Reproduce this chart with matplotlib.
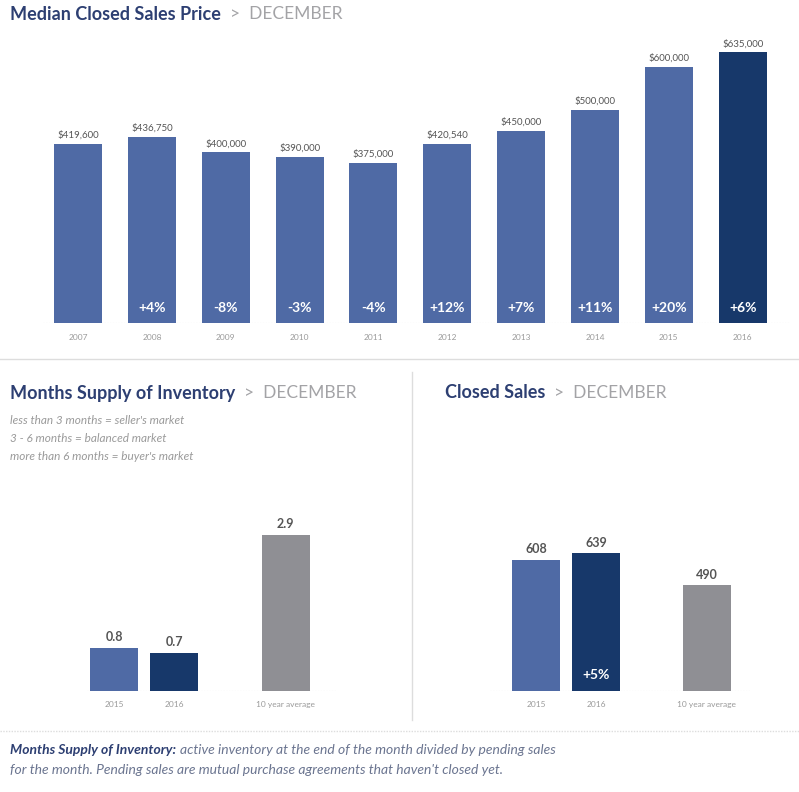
import numpy as np
import matplotlib
matplotlib.use('Agg')
import matplotlib.pyplot as plt

# data
years = ['2007', '2008', '2009', '2010', '2011', '2012', '2013', '2014', '2015', '2016']
prices = [419600, 436750, 400000, 390000, 375000, 420540, 450000, 500000, 600000, 635000]
price_labels = ['$419,600', '$436,750', '$400,000', '$390,000', '$375,000',
                '$420,540', '$450,000', '$500,000', '$600,000', '$635,000']
price_change = ['', '+4%', '-8%', '-3%', '-4%', '+12%', '+7%', '+11%', '+20%', '+6%']

bottom_cats = ['2015', '2016', '10 year average']
supply = [0.8, 0.7, 2.9]
supply_labels = ['0.8', '0.7', '2.9']
closed = [608, 639, 490]
closed_labels = ['608', '639', '490']
closed_change = ['', '+5%', '']

market_notes = ["less than 3 months = seller's market",
                "3 - 6 months = balanced market",
                "more than 6 months = buyer's market"]

# colours
mid_blue = '#4f6aa5'
navy = '#17386a'
grey_bar = '#8f8f94'
title_col = '#2d3f72'
grey_txt = '#a3a3a6'
val_col = '#555555'

plt.rcParams['font.family'] = ['Lato', 'DejaVu Sans']

W, H = 799, 792
fig = plt.figure(figsize=(W / 100, H / 100), dpi=100)
fig.patch.set_facecolor('white')


def px_axes(x0, y0, x1, y1):
    # axes from pixel box (top-left origin)
    return fig.add_axes([x0 / W, 1 - y1 / H, (x1 - x0) / W, (y1 - y0) / H])


def title(x, y, main):
    t = fig.text(x / W, 1 - y / H, main, fontsize=13, fontweight='bold',
                 color=title_col, va='center', ha='left')
    bb = t.get_window_extent(fig.canvas.get_renderer())
    fig.text((bb.x1 + 9) / W, 1 - y / H, '>  DECEMBER', fontsize=12.5,
             color=grey_txt, va='center', ha='left')


def clean(ax):
    for s in ax.spines.values():
        s.set_visible(False)
    ax.set_yticks([])
    ax.tick_params(axis='x', length=0)
    ax.axhline(0, color='#cfcfcf', lw=0.8, ls=(0, (1, 1.5)), zorder=0)


# ---- top chart: median closed sales price
ax1 = px_axes(43, 33, 790, 323)
x = np.arange(len(years))
cols = [mid_blue] * (len(years) - 1) + [navy]
ax1.bar(x, prices, width=0.65, color=cols, zorder=2)
ax1.set_xlim(-0.475, 9.64)
ax1.set_ylim(0, 600000 * 290 / 256)
clean(ax1)
ax1.set_xticks(x)
ax1.set_xticklabels(years, fontsize=6, color='#9a9a9a')
ax1.tick_params(axis='x', pad=8)
for i in range(len(years)):
    ax1.text(x[i], prices[i] + 9000, price_labels[i], ha='center', va='bottom',
             fontsize=7, color=val_col)
    if price_change[i]:
        ax1.text(x[i], 35000, price_change[i], ha='center', va='center',
                 fontsize=10, fontweight='bold', color='white')

title(10, 14, 'Median Closed Sales Price')

# separators
fig.add_artist(plt.Line2D([0, 1], [1 - 359 / H, 1 - 359 / H], color='#dddddd', lw=1))
fig.add_artist(plt.Line2D([412 / W, 412 / W], [1 - 372 / H, 1 - 720 / H], color='#dddddd', lw=1))
fig.add_artist(plt.Line2D([0, 1], [1 - 731 / H, 1 - 731 / H], color='#dddddd', lw=1,
                          ls=(0, (1, 1))))

# ---- bottom left: months supply of inventory
pos = [0, 1, 2.85]
bcols = [mid_blue, navy, grey_bar]
ax2 = px_axes(87, 500, 337, 691)
ax2.bar(pos, supply, width=0.8, color=bcols, zorder=2)
ax2.set_xlim(-0.45, 3.7)
ax2.set_ylim(0, 2.9 * 191 / 156)
clean(ax2)
ax2.set_xticks(pos)
ax2.set_xticklabels(bottom_cats, fontsize=6, color='#9a9a9a')
ax2.tick_params(axis='x', pad=7)
for i in range(3):
    ax2.text(pos[i], supply[i] + 0.1, supply_labels[i], ha='center', va='bottom',
             fontsize=9, fontweight='bold', color=val_col)

title(10, 393, 'Months Supply of Inventory')
for k, note in enumerate(market_notes):
    fig.text(10 / W, 1 - (421 + k * 18) / H, note, fontsize=8.5, style='italic',
             color='#9a9a9a', va='center')

# ---- bottom right: closed sales
ax3 = px_axes(490, 500, 750, 691)
ax3.bar(pos, closed, width=0.8, color=bcols, zorder=2)
ax3.set_xlim(-0.767, 3.57)
ax3.set_ylim(0, 639 * 191 / 138)
clean(ax3)
ax3.set_xticks(pos)
ax3.set_xticklabels(bottom_cats, fontsize=6, color='#9a9a9a')
ax3.tick_params(axis='x', pad=7)
for i in range(3):
    ax3.text(pos[i], closed[i] + 20, closed_labels[i], ha='center', va='bottom',
             fontsize=9, fontweight='bold', color=val_col)
    if closed_change[i]:
        ax3.text(pos[i], 75, closed_change[i], ha='center', va='center',
                 fontsize=10, fontweight='bold', color='white')

title(445, 393, 'Closed Sales')

# ---- footer
t = fig.text(10 / W, 1 - 750 / H, 'Months Supply of Inventory:', fontsize=10,
             fontweight='bold', style='italic', color=title_col, va='center')
bb = t.get_window_extent(fig.canvas.get_renderer())
fig.text((bb.x1 + 4) / W, 1 - 750 / H,
         'active inventory at the end of the month divided by pending sales',
         fontsize=10, style='italic', color='#6b7590', va='center')
fig.text(10 / W, 1 - 770 / H,
         "for the month. Pending sales are mutual purchase agreements that haven't closed yet.",
         fontsize=10, style='italic', color='#6b7590', va='center')

plt.savefig('out.png', dpi=100)
